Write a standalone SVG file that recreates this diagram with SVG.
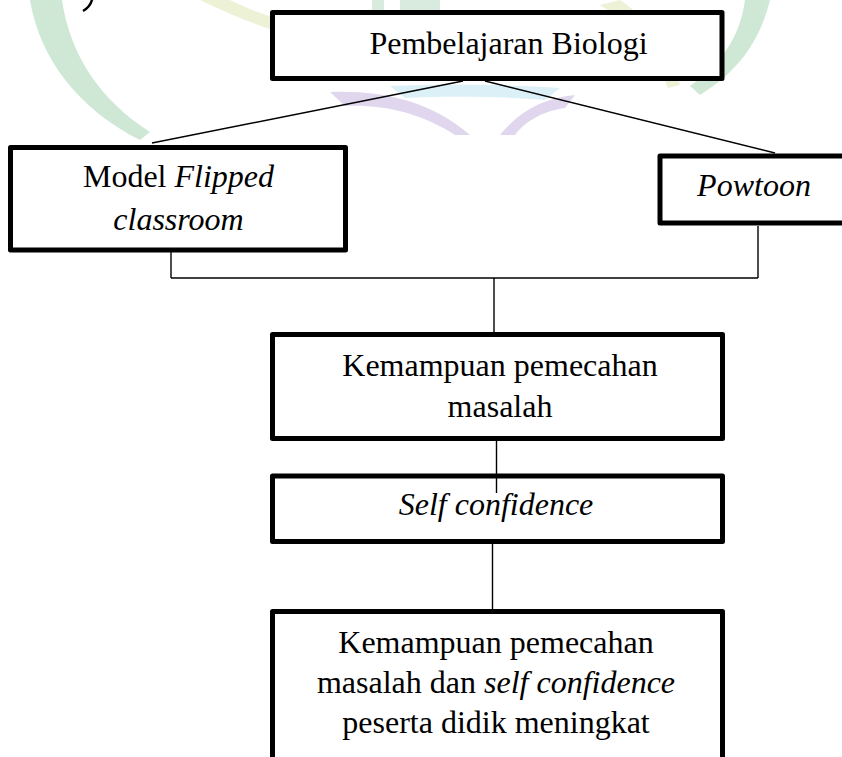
<svg xmlns="http://www.w3.org/2000/svg" width="842" height="757" viewBox="0 0 842 757">
<style>
.box{fill:#ffffff;stroke:#000000;stroke-width:5;stroke-linejoin:round}
.conn{fill:none;stroke:#000000;stroke-width:1.4}
.t{font-family:"Liberation Serif","Times New Roman",serif;font-size:32px;fill:#000000}
.i{font-style:italic}
</style>
<rect x="0" y="0" width="842" height="757" fill="#ffffff"/>
<g id="watermark" opacity="0.55">
<path d="M30,0 C40,60 80,110 140,140 L150,132 C100,100 70,55 62,0 Z" fill="#a9d6b4"/>
<path d="M200,0 C260,30 330,50 380,52 L380,38 C330,36 270,20 230,0 Z" fill="#dfe9b8"/>
<path d="M372,0 L372,14 L384,14 L384,0 Z M400,0 L400,14 L440,14 L440,0 Z" fill="#b9dcc4"/>
<path d="M770,0 C760,40 740,70 700,95 L690,86 C725,60 740,35 745,0 Z" fill="#a9d6b4"/>
<path d="M620,0 C650,20 670,50 680,85 L668,88 C655,55 640,30 600,5 Z" fill="#dfe9b8"/>
<path d="M330,92 C380,90 430,100 470,135 L455,135 C420,112 380,104 345,106 Z" fill="#c8b8e3"/>
<path d="M500,135 C520,110 545,98 575,95 L565,108 C540,112 525,122 515,135 Z" fill="#c8b8e3"/>
<path d="M390,86 C440,84 500,84 560,88 L545,100 C500,96 440,96 405,98 Z" fill="#bfe6f2"/>
</g>
<path d="M92,0 Q90,7 83,11" fill="none" stroke="#000000" stroke-width="2.5"/>
<g id="connectors">
<line class="conn" x1="463" y1="81" x2="152" y2="143"/>
<line class="conn" x1="485" y1="81" x2="775" y2="153"/>
<line class="conn" x1="171" y1="252" x2="171" y2="278"/>
<line class="conn" x1="758" y1="226" x2="758" y2="278"/>
<line class="conn" x1="171" y1="278" x2="758" y2="278"/>
<line class="conn" x1="494" y1="278" x2="494" y2="333"/>
<line class="conn" x1="496.5" y1="440" x2="496.5" y2="493"/>
<line class="conn" x1="492.5" y1="544" x2="492.5" y2="609"/>
</g>
<g id="node-biologi">
<rect class="box" x="272.5" y="12.5" width="449.5" height="66"/>
<text class="t" x="508.5" y="54" text-anchor="middle">Pembelajaran Biologi</text>
</g>
<g id="node-flipped">
<rect class="box" x="10.5" y="147.5" width="335" height="102.5"/>
<text class="t" x="178.5" y="187" text-anchor="middle">Model <tspan class="i">Flipped</tspan></text>
<text class="t i" x="178.5" y="230" text-anchor="middle">classroom</text>
</g>
<g id="node-powtoon">
<rect class="box" x="660" y="156" width="190" height="67"/>
<text class="t i" x="754" y="196" text-anchor="middle">Powtoon</text>
</g>
<g id="node-masalah">
<rect class="box" x="272.5" y="334.5" width="450" height="104"/>
<text class="t" x="500" y="376" text-anchor="middle">Kemampuan pemecahan</text>
<text class="t" x="500" y="417" text-anchor="middle">masalah</text>
</g>
<g id="node-self">
<rect class="box" x="272.5" y="476" width="450" height="65.5"/>
<text class="t i" x="496" y="515" text-anchor="middle">Self confidence</text>
</g>
<g id="node-hasil">
<rect class="box" x="272.5" y="611.5" width="450" height="170"/>
<text class="t" x="496" y="653" text-anchor="middle">Kemampuan pemecahan</text>
<text class="t" x="496" y="693" text-anchor="middle">masalah dan <tspan class="i">self confidence</tspan></text>
<text class="t" x="496" y="733" text-anchor="middle">peserta didik meningkat</text>
</g>
<line class="conn" x1="496.5" y1="476" x2="496.5" y2="493"/>
</svg>
